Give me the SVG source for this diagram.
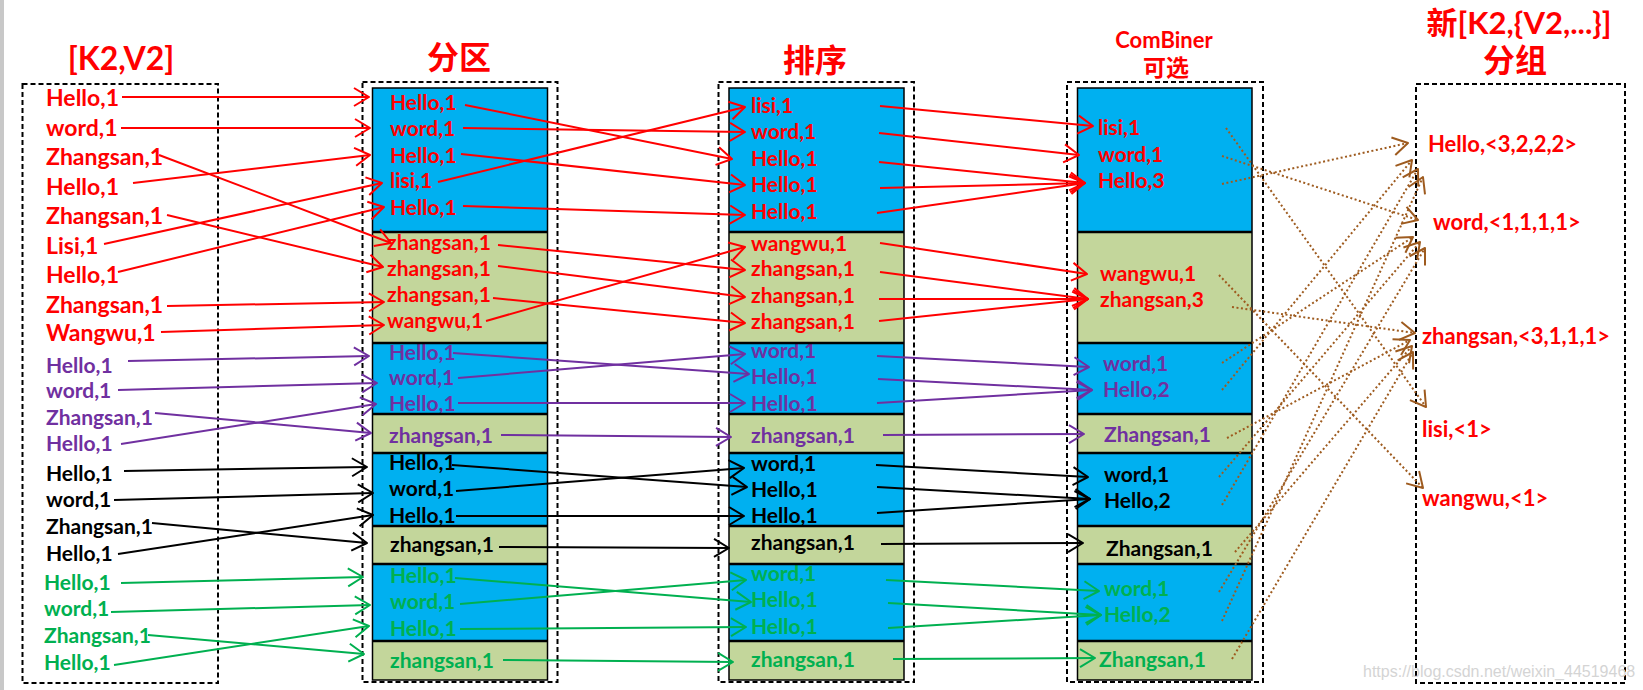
<svg xmlns="http://www.w3.org/2000/svg" width="1643" height="690" viewBox="0 0 1643 690">
<style>
.t{font-family:Lato,"Noto Sans CJK SC",sans-serif;font-weight:bold}
.big{font-size:23px}.sm{font-size:21px}.res{font-size:22px}.ttl{font-size:32px}
.r{fill:#FF0000}.p{fill:#7030A0}.k{fill:#000000}.g{fill:#00B050}
.box{fill:none;stroke:#000;stroke-width:2;stroke-dasharray:5 3}
.blue{fill:#00B0F0}.olive{fill:#C3D69B}
.frame{fill:none;stroke:#000;stroke-width:1.5}
.sep{stroke:#000;stroke-width:2.5}
.cr{stroke:#FF0000;stroke-width:2;fill:none;marker-end:url(#ar)}
.cp{stroke:#7030A0;stroke-width:2;fill:none;marker-end:url(#ap)}
.ck{stroke:#000;stroke-width:2;fill:none;marker-end:url(#ak)}
.cg{stroke:#00B050;stroke-width:2;fill:none;marker-end:url(#ag)}
.cb{stroke:#9E5B1F;stroke-width:2;fill:none;stroke-dasharray:2 2.5;marker-end:url(#ab)}
.wm{font-family:"Liberation Sans",sans-serif;font-size:16px;fill:#D4D4D4}
</style>
<defs>
<marker id="ar" viewBox="-17 -11 19 22" refX="0" refY="0" markerWidth="19" markerHeight="22" markerUnits="userSpaceOnUse" orient="auto"><path d="M-15,-9 L0,0 L-15,9" fill="none" stroke="#FF0000" stroke-width="2" stroke-linejoin="round"/></marker>
<marker id="ap" viewBox="-17 -11 19 22" refX="0" refY="0" markerWidth="19" markerHeight="22" markerUnits="userSpaceOnUse" orient="auto"><path d="M-15,-9 L0,0 L-15,9" fill="none" stroke="#7030A0" stroke-width="2" stroke-linejoin="round"/></marker>
<marker id="ak" viewBox="-17 -11 19 22" refX="0" refY="0" markerWidth="19" markerHeight="22" markerUnits="userSpaceOnUse" orient="auto"><path d="M-15,-9 L0,0 L-15,9" fill="none" stroke="#000000" stroke-width="2" stroke-linejoin="round"/></marker>
<marker id="ag" viewBox="-17 -11 19 22" refX="0" refY="0" markerWidth="19" markerHeight="22" markerUnits="userSpaceOnUse" orient="auto"><path d="M-15,-9 L0,0 L-15,9" fill="none" stroke="#00B050" stroke-width="2" stroke-linejoin="round"/></marker>
<marker id="ab" viewBox="-17 -11 19 22" refX="0" refY="0" markerWidth="19" markerHeight="22" markerUnits="userSpaceOnUse" orient="auto"><path d="M-15,-9 L0,0 L-15,9" fill="none" stroke="#9E5B1F" stroke-width="2" stroke-linejoin="round"/></marker>
</defs>
<rect width="1643" height="690" fill="#FFFFFF"/>
<rect x="0" y="0" width="4" height="690" fill="#C8C8C8"/>

<!-- Titles -->
<g id="title-k2v2"><text class="t r" x="121" y="70" font-size="32" text-anchor="middle">[K2,V2]</text></g>
<g id="title-partition"><text class="t r ttl" x="459" y="69" text-anchor="middle">分区</text></g>
<g id="title-sort"><text class="t r ttl" x="815" y="72" text-anchor="middle">排序</text></g>
<g id="title-combiner"><text class="t r" x="1164" y="48" font-size="22" text-anchor="middle">ComBiner</text><text class="t r" x="1166" y="76" font-size="23" text-anchor="middle">可选</text></g>
<g id="title-group"><text class="t r" x="1519" y="34" font-size="31" text-anchor="middle">新[K2,{V2,...}]</text><text class="t r ttl" x="1515" y="72" text-anchor="middle">分组</text></g>

<!-- Column 1: [K2,V2] -->
<g id="col-input">
<rect class="box" x="22.5" y="84" width="195.5" height="599"/>
<g class="t big r">
<text x="46" y="106">Hello,1</text>
<text x="46" y="136">word,1</text>
<text x="46" y="165">Zhangsan,1</text>
<text x="46" y="195">Hello,1</text>
<text x="46" y="224">Zhangsan,1</text>
<text x="46" y="254">Lisi,1</text>
<text x="46" y="283">Hello,1</text>
<text x="46" y="313">Zhangsan,1</text>
<text x="46" y="341">Wangwu,1</text>
</g>
<g class="t sm p">
<text x="46" y="373">Hello,1</text>
<text x="46" y="398">word,1</text>
<text x="46" y="425">Zhangsan,1</text>
<text x="46" y="451">Hello,1</text>
</g>
<g class="t sm k">
<text x="46" y="481">Hello,1</text>
<text x="46" y="507">word,1</text>
<text x="46" y="534">Zhangsan,1</text>
<text x="46" y="561">Hello,1</text>
</g>
<g class="t sm g">
<text x="44" y="590">Hello,1</text>
<text x="44" y="616">word,1</text>
<text x="44" y="643">Zhangsan,1</text>
<text x="44" y="670">Hello,1</text>
</g>
</g>

<!-- Column 2: partition -->
<g id="col-partition">
<rect class="box" x="362.5" y="82" width="195" height="600"/>
<g id="part-seg1"><rect class="blue" x="372.5" y="88" width="175" height="144"/>
<g class="t sm r"><text x="390" y="110">Hello,1</text><text x="390" y="136">word,1</text><text x="390" y="163">Hello,1</text><text x="390" y="188">lisi,1</text><text x="390" y="215">Hello,1</text></g></g>
<g id="part-seg2"><rect class="olive" x="372.5" y="232" width="175" height="111"/>
<g class="t sm r"><text x="387" y="250">zhangsan,1</text><text x="387" y="276">zhangsan,1</text><text x="387" y="302">zhangsan,1</text><text x="387" y="328">wangwu,1</text></g></g>
<g id="part-seg3"><rect class="blue" x="372.5" y="343" width="175" height="71"/>
<g class="t sm p"><text x="389" y="360">Hello,1</text><text x="389" y="385">word,1</text><text x="389" y="411">Hello,1</text></g></g>
<g id="part-seg4"><rect class="olive" x="372.5" y="414" width="175" height="39"/>
<text class="t sm p" x="389" y="443">zhangsan,1</text></g>
<g id="part-seg5"><rect class="blue" x="372.5" y="453" width="175" height="73"/>
<g class="t sm k"><text x="389" y="470">Hello,1</text><text x="389" y="496">word,1</text><text x="389" y="523">Hello,1</text></g></g>
<g id="part-seg6"><rect class="olive" x="372.5" y="526" width="175" height="38"/>
<text class="t sm k" x="390" y="552">zhangsan,1</text></g>
<g id="part-seg7"><rect class="blue" x="372.5" y="564" width="175" height="77"/>
<g class="t sm g"><text x="390" y="583">Hello,1</text><text x="390" y="609">word,1</text><text x="390" y="636">Hello,1</text></g></g>
<g id="part-seg8"><rect class="olive" x="372.5" y="641" width="175" height="39"/>
<text class="t sm g" x="390" y="668">zhangsan,1</text></g>
<rect class="frame" x="372.5" y="88" width="175" height="592"/>
<path class="sep" d="M372.5,232H547.5M372.5,343H547.5M372.5,414H547.5M372.5,453H547.5M372.5,526H547.5M372.5,564H547.5M372.5,641H547.5"/>
</g>

<!-- Column 3: sort -->
<g id="col-sort">
<rect class="box" x="718.5" y="82" width="195.5" height="600"/>
<g id="sort-seg1"><rect class="blue" x="729" y="88" width="175" height="144"/>
<g class="t sm r"><text x="751" y="113">lisi,1</text><text x="751" y="139">word,1</text><text x="751" y="166">Hello,1</text><text x="751" y="192">Hello,1</text><text x="751" y="219">Hello,1</text></g></g>
<g id="sort-seg2"><rect class="olive" x="729" y="232" width="175" height="111"/>
<g class="t sm r"><text x="751" y="251">wangwu,1</text><text x="751" y="276">zhangsan,1</text><text x="751" y="303">zhangsan,1</text><text x="751" y="329">zhangsan,1</text></g></g>
<g id="sort-seg3"><rect class="blue" x="729" y="343" width="175" height="71"/>
<g class="t sm p"><text x="751" y="358">word,1</text><text x="751" y="384">Hello,1</text><text x="751" y="411">Hello,1</text></g></g>
<g id="sort-seg4"><rect class="olive" x="729" y="414" width="175" height="39"/>
<text class="t sm p" x="751" y="443">zhangsan,1</text></g>
<g id="sort-seg5"><rect class="blue" x="729" y="453" width="175" height="73"/>
<g class="t sm k"><text x="751" y="471">word,1</text><text x="751" y="497">Hello,1</text><text x="751" y="523">Hello,1</text></g></g>
<g id="sort-seg6"><rect class="olive" x="729" y="526" width="175" height="38"/>
<text class="t sm k" x="751" y="550">zhangsan,1</text></g>
<g id="sort-seg7"><rect class="blue" x="729" y="564" width="175" height="77"/>
<g class="t sm g"><text x="751" y="581">word,1</text><text x="751" y="607">Hello,1</text><text x="751" y="634">Hello,1</text></g></g>
<g id="sort-seg8"><rect class="olive" x="729" y="641" width="175" height="39"/>
<text class="t sm g" x="751" y="667">zhangsan,1</text></g>
<rect class="frame" x="729" y="88" width="175" height="592"/>
<path class="sep" d="M729,232H904M729,343H904M729,414H904M729,453H904M729,526H904M729,564H904M729,641H904"/>
</g>

<!-- Column 4: combiner -->
<g id="col-combiner">
<rect class="box" x="1067" y="82" width="196" height="600"/>
<g id="comb-seg1"><rect class="blue" x="1077.5" y="88" width="174.5" height="144"/>
<g class="t sm r"><text x="1098" y="135">lisi,1</text><text x="1098" y="162">word,1</text><text x="1098" y="188">Hello,3</text></g></g>
<g id="comb-seg2"><rect class="olive" x="1077.5" y="232" width="174.5" height="111"/>
<g class="t sm r"><text x="1100" y="281">wangwu,1</text><text x="1100" y="307">zhangsan,3</text></g></g>
<g id="comb-seg3"><rect class="blue" x="1077.5" y="343" width="174.5" height="71"/>
<g class="t sm p"><text x="1103" y="371">word,1</text><text x="1103" y="397">Hello,2</text></g></g>
<g id="comb-seg4"><rect class="olive" x="1077.5" y="414" width="174.5" height="39"/>
<text class="t sm p" x="1104" y="442">Zhangsan,1</text></g>
<g id="comb-seg5"><rect class="blue" x="1077.5" y="453" width="174.5" height="73"/>
<g class="t sm k"><text x="1104" y="482">word,1</text><text x="1104" y="508">Hello,2</text></g></g>
<g id="comb-seg6"><rect class="olive" x="1077.5" y="526" width="174.5" height="38"/>
<text class="t sm k" x="1106" y="556">Zhangsan,1</text></g>
<g id="comb-seg7"><rect class="blue" x="1077.5" y="564" width="174.5" height="77"/>
<g class="t sm g"><text x="1104" y="596">word,1</text><text x="1104" y="622">Hello,2</text></g></g>
<g id="comb-seg8"><rect class="olive" x="1077.5" y="641" width="174.5" height="39"/>
<text class="t sm g" x="1099" y="667">Zhangsan,1</text></g>
<rect class="frame" x="1077.5" y="88" width="174.5" height="592"/>
<path class="sep" d="M1077.5,232H1252M1077.5,343H1252M1077.5,414H1252M1077.5,453H1252M1077.5,526H1252M1077.5,564H1252M1077.5,641H1252"/>
</g>

<!-- Column 5: grouped result -->
<g id="col-result">
<rect class="box" x="1416" y="84" width="209" height="599"/>
<g class="t res r">
<text x="1428" y="152">Hello,&lt;3,2,2,2&gt;</text>
<text x="1433" y="230">word,&lt;1,1,1,1&gt;</text>
<text x="1422" y="344">zhangsan,&lt;3,1,1,1&gt;</text>
<text x="1422" y="437">lisi,&lt;1&gt;</text>
<text x="1422" y="506">wangwu,&lt;1&gt;</text>
</g>
</g>

<text class="wm" x="1363" y="677">https://blog.csdn.net/weixin_44519468</text>

<!-- Connectors -->
<g id="connectors">
<g id="red-in-part">
<path class="cr" d="M122,97L369,97"/>
<path class="cr" d="M121,128L370,128"/>
<path class="cr" d="M159,155L391,243"/>
<path class="cr" d="M133,183L370,155"/>
<path class="cr" d="M167,215L383,267"/>
<path class="cr" d="M104,244L382,183"/>
<path class="cr" d="M118,272L384,207"/>
<path class="cr" d="M167,306L384,302"/>
<path class="cr" d="M161,332L384,325"/>
</g>
<g id="red-part-sort">
<path class="cr" d="M465,105L732,159"/>
<path class="cr" d="M463,128L745,132"/>
<path class="cr" d="M461,154L745,185"/>
<path class="cr" d="M438,182L745,107"/>
<path class="cr" d="M463,206L745,215"/>
<path class="cr" d="M498,245L745,270"/>
<path class="cr" d="M498,266L745,297"/>
<path class="cr" d="M493,298L745,323"/>
<path class="cr" d="M486,321L745,247"/>
</g>
<g id="red-sort-comb">
<path class="cr" d="M880,106L1093,126"/>
<path class="cr" d="M879,133L1079,155"/>
<path class="cr" d="M879,162L1085,183"/>
<path class="cr" d="M880,188L1085,183"/>
<path class="cr" d="M877,213L1085,183"/>
<path class="cr" d="M880,243L1087,274"/>
<path class="cr" d="M880,272L1088,299"/>
<path class="cr" d="M879,299L1088,299"/>
<path class="cr" d="M879,321L1088,299"/>
</g>
<g id="purple-conn">
<path class="cp" d="M128,361L369,356"/>
<path class="cp" d="M118,390L377,383"/>
<path class="cp" d="M155,413L371,433"/>
<path class="cp" d="M121,444L376,404"/>
<path class="cp" d="M453,353L749,374"/>
<path class="cp" d="M458,378L745,354"/>
<path class="cp" d="M458,403L745,403"/>
<path class="cp" d="M501,435L731,437"/>
<path class="cp" d="M877,356L1089,367"/>
<path class="cp" d="M878,379L1092,390"/>
<path class="cp" d="M877,403L1092,390"/>
<path class="cp" d="M883,435L1084,434"/>
</g>
<g id="black-conn">
<path class="ck" d="M124,471L367,467"/>
<path class="ck" d="M114,500L373,493"/>
<path class="ck" d="M152,523L367,543"/>
<path class="ck" d="M118,554L373,515"/>
<path class="ck" d="M452,465L747,487"/>
<path class="ck" d="M456,491L744,468"/>
<path class="ck" d="M456,516L744,516"/>
<path class="ck" d="M499,547L729,548"/>
<path class="ck" d="M876,465L1088,477"/>
<path class="ck" d="M877,487L1090,499"/>
<path class="ck" d="M877,513L1090,499"/>
<path class="ck" d="M881,544L1083,543"/>
</g>
<g id="green-conn">
<path class="cg" d="M121,583L363,577"/>
<path class="cg" d="M111,612L370,605"/>
<path class="cg" d="M148,635L364,654"/>
<path class="cg" d="M114,665L369,626"/>
<path class="cg" d="M455,578L751,602"/>
<path class="cg" d="M460,604L746,580"/>
<path class="cg" d="M460,629L746,627"/>
<path class="cg" d="M503,660L733,662"/>
<path class="cg" d="M886,580L1099,591"/>
<path class="cg" d="M888,603L1101,615"/>
<path class="cg" d="M888,628L1101,615"/>
<path class="cg" d="M893,659L1095,658"/>
</g>
<g id="group-conn">
<path class="cb" d="M1226,128L1426,407"/>
<path class="cb" d="M1222,156L1418,220"/>
<path class="cb" d="M1222,184L1408,143"/>
<path class="cb" d="M1219,275L1423,488"/>
<path class="cb" d="M1232,307L1415,333"/>
<path class="cb" d="M1222,363L1413,237"/>
<path class="cb" d="M1222,390L1412,160"/>
<path class="cb" d="M1227,438L1410,340"/>
<path class="cb" d="M1219,477L1420,242"/>
<path class="cb" d="M1222,505L1418,169"/>
<path class="cb" d="M1235,552L1412,346"/>
<path class="cb" d="M1219,592L1425,248"/>
<path class="cb" d="M1222,621L1423,177"/>
<path class="cb" d="M1232,659L1413,352"/>
</g>
</g>
</svg>
